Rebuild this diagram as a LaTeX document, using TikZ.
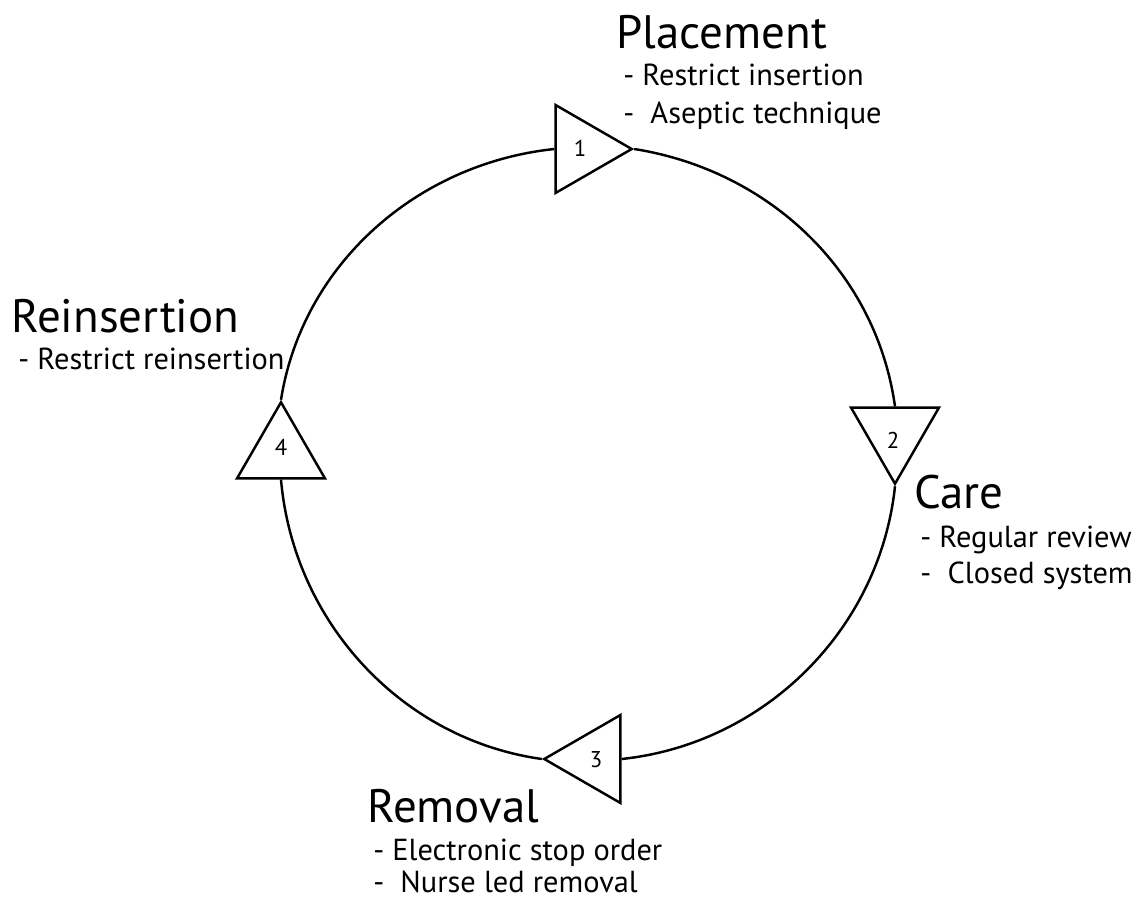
\documentclass[tikz,border=0pt]{standalone}
\usepackage{fontspec}
\setmainfont{PT Sans}
\usetikzlibrary{shapes.geometric}
\begin{document}
\begin{tikzpicture}[x=0.02cm, y=-0.02cm,
  stage/.style={draw, line width=1.4pt, regular polygon, regular polygon sides=3,
    minimum size=2.03cm, inner sep=0pt},
  num/.style={inner sep=0pt, font=\fontsize{13}{15}\selectfont},
  loop/.style={draw, line width=1.4pt, looseness=0.95},
  title/.style={anchor=base west, inner sep=0pt, font=\fontsize{26.7}{30}\selectfont},
  item/.style={anchor=base west, inner sep=0pt, font=\fontsize{17.3}{20}\selectfont}]
  \useasboundingbox (0,0) rectangle (1137,900);

  % the four stages, each triangle pointing along the cycle
  \node[stage, shape border rotate=-90] (t1) at (581,149) {};
  \node[stage, shape border rotate=180] (t2) at (895,433) {};
  \node[stage, shape border rotate=90]  (t3) at (595,759) {};
  \node[stage] (t4) at (281,453) {};
  \node[num] (n1) at (580,148) {1};
  \node[num] (n2) at (893,440) {2};
  \node[num] (n3) at (596,760) {3};
  \node[num] (n4) at (281,447) {4};

  % the cycle joining them
  \path[loop] (t1.corner 1) to[out=-9, in=98] (t2.side 2);
  \path[loop] (t2.corner 1) to[out=-96, in=6] (t3.side 2);
  \path[loop] (t3.corner 1) to[out=172, in=-85] (t4.side 2);
  \path[loop] (t4.corner 1) to[out=81, in=186] (t1.side 2);

  % labels
  \node[title] (placement) at (616,48) {Placement};
  \node[item] (p1) at (623,85) {- Restrict insertion};
  \node[item] (p2) at (623,123) {- \ Aseptic technique};

  \node[title] (care) at (914,508) {Care};
  \node[item] (c1) at (920,547) {- Regular review};
  \node[item] (c2) at (920,583) {- \ Closed system};

  \node[title] (removal) at (367,822) {Removal};
  \node[item] (r1) at (373,860) {- Electronic stop order};
  \node[item] (r2) at (373,892) {- \ Nurse led removal};

  \node[title] (reins) at (11,332) {Reinsertion};
  \node[item] (ri1) at (18,369) {- Restrict reinsertion};
\end{tikzpicture}
\end{document}
